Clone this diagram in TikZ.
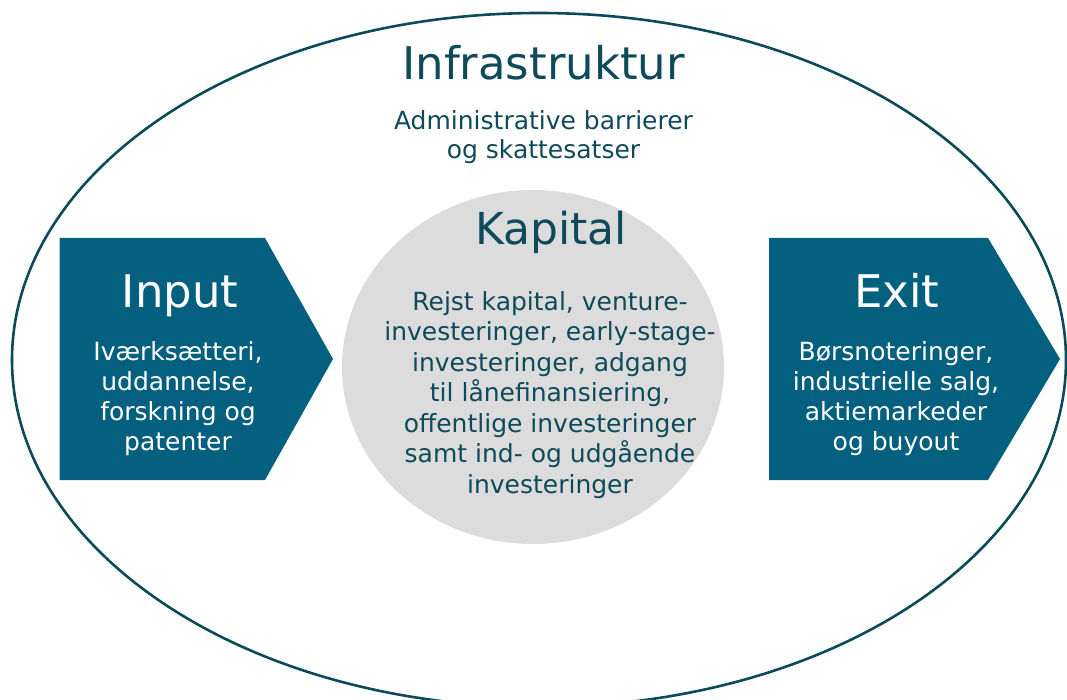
\documentclass[tikz,border=0pt]{standalone}
\usepackage{fontspec}
\setmainfont{DejaVu Sans}
\definecolor{ringline}{HTML}{0B4A5B}
\definecolor{arrowfill}{HTML}{05607F}
\definecolor{inktext}{HTML}{0E4A5A}
\definecolor{capgray}{HTML}{DCDCDC}
\begin{document}
\begin{tikzpicture}[x=1pt,y=-1pt,
  heading/.style={anchor=base, inner sep=0pt, font=\fontsize{45}{54}\selectfont},
  bodytext/.style={anchor=base, inner sep=0pt, align=center, font=\fontsize{25}{30}\selectfont},
  darktext/.style={text=inktext},
  lighttext/.style={text=white},
  chevron/.style={fill=arrowfill}]
\useasboundingbox (0,0) rectangle (1067,700);
\clip (0,0) rectangle (1067,700);

% outer ring: infrastructure
\draw[ringline, line width=2.6pt] (539,360) ellipse [x radius=527, y radius=347];
% capital core
\fill[capgray] (533,367) ellipse [x radius=191, y radius=177];
% input and exit chevrons
\fill[chevron] (59.5,238) -- (265,238) -- (333,359) -- (265,480) -- (59.5,480) -- cycle;
\fill[chevron] (769,238) -- (988,238) -- (1060,359) -- (988,480) -- (769,480) -- cycle;

% texts (multi-line nodes sit on the baseline of their last line)
\node[heading, darktext] (infra) at (543.5,80) {Infrastruktur};
\node[bodytext, darktext, font=\fontsize{25}{29}\selectfont] (infrabody) at (543.5,159)
  {Administrative barrierer\\og skattesatser};

\node[heading, darktext, font=\fontsize{44}{52}\selectfont] (kapital) at (551,245) {Kapital};
\node[bodytext, darktext, font=\fontsize{25}{30.5}\selectfont] (kapitalbody) at (550,493)
  {Rejst kapital, venture-\\investeringer, early-stage-\\investeringer, adgang\\til lånefinansiering,\\offentlige investeringer\\samt ind- og udgående\\investeringer};

\node[heading, lighttext] (input) at (180,308) {Input};
\node[bodytext, lighttext] (inputbody) at (178,450)
  {Iværksætteri,\\uddannelse,\\forskning og\\patenter};

\node[heading, lighttext] (exit) at (897,308) {Exit};
\node[bodytext, lighttext] (exitbody) at (896,450)
  {Børsnoteringer,\\industrielle salg,\\aktiemarkeder\\og buyout};
\end{tikzpicture}
\end{document}
